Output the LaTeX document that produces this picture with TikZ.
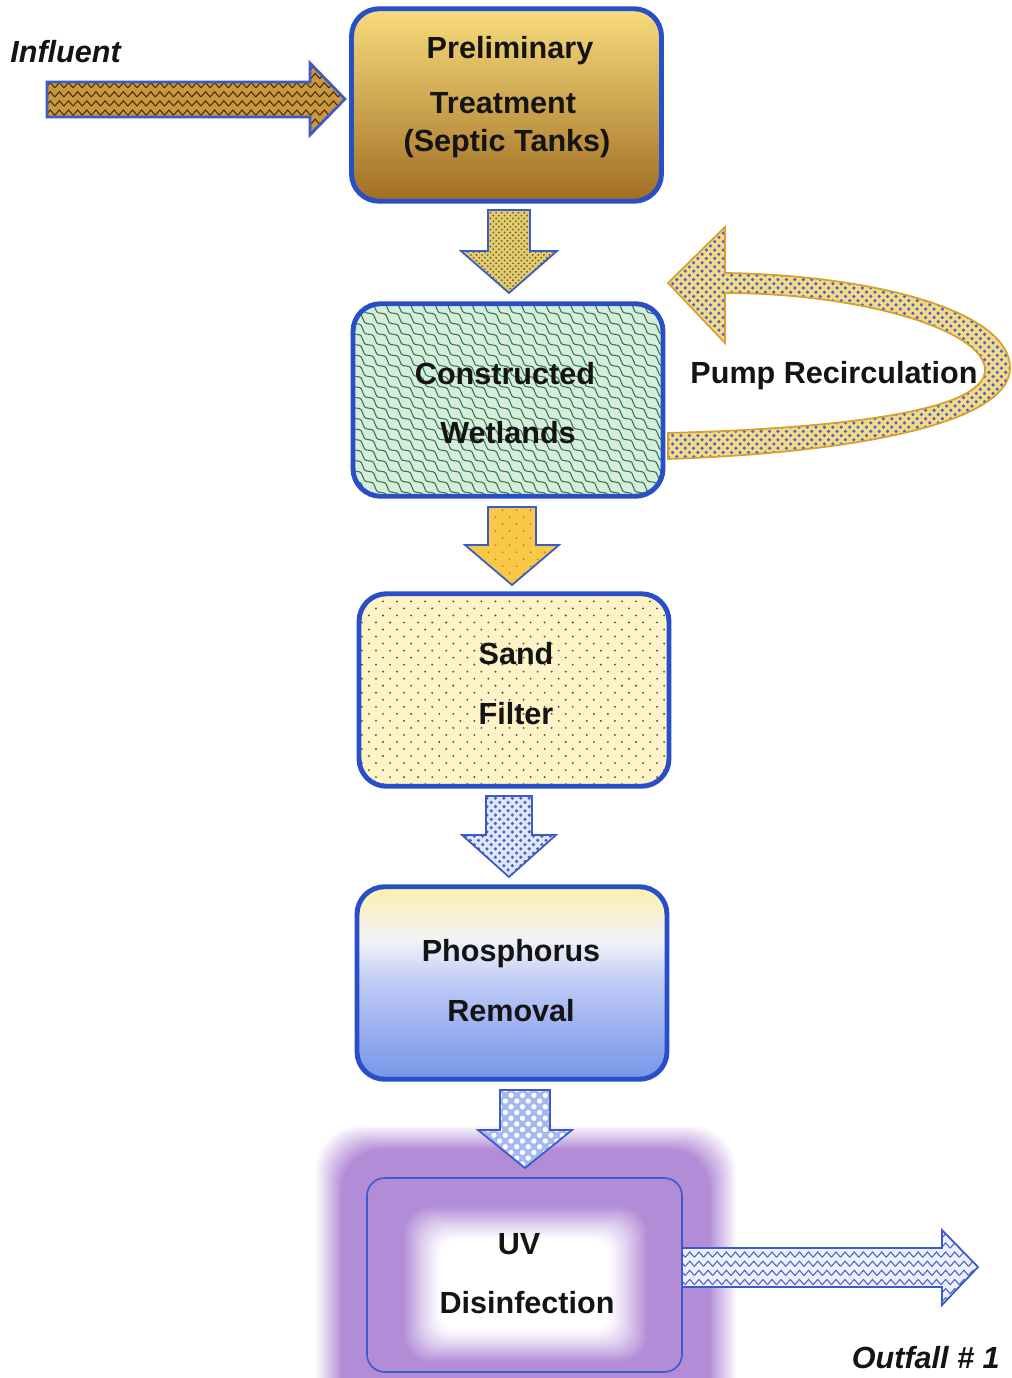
\documentclass[tikz,border=0pt]{standalone}
\usepackage{fontspec}
\setmainfont{Liberation Sans}
\usetikzlibrary{patterns,calc}

\definecolor{boxblue}{RGB}{40,78,200}
\definecolor{arrblue}{RGB}{60,90,200}
\definecolor{preltop}{RGB}{248,220,125}
\definecolor{prelmid}{RGB}{220,165,65}
\definecolor{prelbot}{RGB}{160,110,35}
\definecolor{wetfill}{RGB}{216,236,220}
\definecolor{wetline}{RGB}{45,120,75}
\definecolor{sandfill}{RGB}{253,243,198}
\definecolor{sanddot}{RGB}{80,80,70}
\definecolor{phtop}{RGB}{253,240,172}
\definecolor{phwhite}{RGB}{242,242,248}
\definecolor{phlav}{RGB}{190,202,245}
\definecolor{phbot}{RGB}{118,148,232}
\definecolor{uvpurple}{RGB}{178,140,214}
\definecolor{inflfill}{RGB}{200,152,62}
\definecolor{infldark}{RGB}{70,45,15}
\definecolor{aonefill}{RGB}{226,206,112}
\definecolor{aonedot}{RGB}{115,95,40}
\definecolor{atwofill}{RGB}{248,200,70}
\definecolor{atwodot}{RGB}{170,130,40}
\definecolor{athreefill}{RGB}{222,230,250}
\definecolor{bluedot}{RGB}{80,95,200}
\definecolor{afourfill}{RGB}{165,185,240}
\definecolor{recfill}{RGB}{242,218,135}
\definecolor{recline}{RGB}{215,160,50}
\definecolor{outfill}{RGB}{236,241,253}
\definecolor{txt}{RGB}{20,20,20}

% staggered dot patterns: name, tile (pt), radius (pt)
\newcommand\defdotpat[3]{%
  \pgfdeclarepatternformonly{#1}{\pgfpoint{-1pt}{-1pt}}{\pgfpoint{#2pt+1pt}{#2pt+1pt}}{\pgfpoint{#2pt}{#2pt}}{%
    \pgfpathcircle{\pgfpoint{0.25*#2pt}{0.25*#2pt}}{#3pt}%
    \pgfpathcircle{\pgfpoint{0.75*#2pt}{0.75*#2pt}}{#3pt}%
    \pgfusepath{fill}}}
\defdotpat{densedots}{3.2}{0.6}
\defdotpat{sparsedots}{8}{0.55}
\defdotpat{sanddots}{8}{0.6}
\defdotpat{bluedots}{4.8}{1.0}
\defdotpat{bigdots}{6.5}{1.5}

\pgfdeclarepatternformonly{zigzagpat}{\pgfpoint{-0.5pt}{-0.5pt}}{\pgfpoint{6pt}{6pt}}{\pgfpoint{5.2pt}{5.2pt}}{%
  \pgfsetlinewidth{0.6pt}%
  \pgfpathmoveto{\pgfpoint{0pt}{1.1pt}}%
  \pgfpathlineto{\pgfpoint{2.6pt}{4.1pt}}%
  \pgfpathlineto{\pgfpoint{5.2pt}{1.1pt}}%
  \pgfusepath{stroke}}

\pgfdeclarepatternformonly{scalepat}{\pgfpoint{-1pt}{-1pt}}{\pgfpoint{8pt}{7pt}}{\pgfpoint{7pt}{6pt}}{%
  \pgfsetlinewidth{0.6pt}%
  \pgfpathmoveto{\pgfpoint{0pt}{6pt}}%
  \pgfpathcurveto{\pgfpoint{5.5pt}{6pt}}{\pgfpoint{1.5pt}{0pt}}{\pgfpoint{7pt}{0pt}}%
  \pgfusepath{stroke}}

\pgfdeclareverticalshading{phshade}{100bp}{color(0bp)=(phbot); color(25bp)=(phbot); color(50bp)=(phlav); color(61bp)=(phwhite); color(75bp)=(phtop); color(100bp)=(phtop)}

\newcommand\downblk[7]{%
  \path[#7] (#1-#5,#2) -- (#1+#5,#2) -- (#1+#5,#3) -- (#1+#6,#3) -- (#1,#4) -- (#1-#6,#3) -- (#1-#5,#3) -- cycle;}

\begin{document}
\begin{tikzpicture}[x=0.02cm,y=-0.02cm,
  box/.style={line width=2.8pt,rounded corners=0.55cm,minimum width=6.2cm,minimum height=3.85cm,inner sep=0pt},
  lbl/.style={font=\fontsize{17.4}{20}\selectfont\bfseries,text=txt,inner sep=0pt,anchor=base},
  ilbl/.style={font=\fontsize{17.4}{20}\selectfont\bfseries\itshape,text=txt,inner sep=0pt},
  aone/.style={fill=aonefill,postaction={pattern=densedots,pattern color=aonedot},postaction={draw=arrblue,line width=1pt}},
  atwo/.style={fill=atwofill,postaction={pattern=sparsedots,pattern color=atwodot},postaction={draw=arrblue,line width=1pt}},
  athree/.style={fill=athreefill,postaction={pattern=bluedots,pattern color=bluedot},postaction={draw=arrblue,line width=1pt}},
  afour/.style={fill=afourfill,postaction={pattern=bigdots,pattern color=white},postaction={draw=arrblue,line width=1pt}},
  inflarr/.style={fill=inflfill,postaction={pattern=zigzagpat,pattern color=infldark},postaction={draw=arrblue,line width=1.5pt}},
  outarr/.style={fill=outfill,postaction={pattern=zigzagpat,pattern color=bluedot},postaction={draw=arrblue,line width=1pt}},
  recarr/.style={fill=recfill,postaction={pattern=bluedots,pattern color=bluedot},postaction={draw=recline,line width=1pt}}
]
\useasboundingbox (0,0) rectangle (1011,1378);
\clip (0,0) rectangle (1011,1378);
\fill[white] (0,0) rectangle (1011,1378);

% ---- UV glow: nested opaque rectangles, outer (t=0) to core (t=1) ----
\foreach \k in {0,...,60}{
  \pgfmathsetmacro\t{\k/60}
  \pgfmathsetmacro\p{\t<0.22 ? 100*(\t/0.22) : (\t<0.7 ? 100 : 100*((1-\t)/0.3)^1.2)}
  \pgfmathsetmacro\lx{314+\t*126}
  \pgfmathsetmacro\ty{1124+\t*116}
  \pgfmathsetmacro\rx{738-\t*128}
  \pgfmathsetmacro\by{1440-\t*110}
  \pgfmathsetmacro\rc{26-\t*16}
  \fill[uvpurple!\p!white,rounded corners=\rc pt] (\lx,\ty) rectangle (\rx,\by);
}

% ---- boxes ----
\node[box,draw=boxblue,top color=preltop,middle color=prelmid,bottom color=prelbot] (pre) at (506.5,105) {};
\path[recarr] (668,283) -- (725,227) -- (725,273) .. controls (870,275) and (1010,310) .. (1010,368)
   .. controls (1010,420) and (870,452) .. (668,459) -- (668,433)
   .. controls (850,428) and (985,410) .. (985,370)
   .. controls (985,330) and (860,293) .. (725,293) -- (725,343) -- cycle;
\node[box,fill=wetfill,postaction={pattern=scalepat,pattern color=wetline},postaction={draw=boxblue,line width=2.8pt}] (wet) at (508,400) {};
\node[box,fill=sandfill,postaction={pattern=sanddots,pattern color=sanddot},postaction={draw=boxblue,line width=2.8pt}] (sand) at (514,690) {};
\node[box,draw=boxblue,shading=phshade] (phos) at (512,983) {};
\node[draw=arrblue,line width=0.9pt,rounded corners=10pt,minimum width=6.3cm,minimum height=3.88cm,inner sep=0pt] (uv) at (524.5,1275) {};

% ---- block arrows ----
\path[inflarr] (47,82) -- (310,82) -- (310,63) -- (345,99) -- (310,135) -- (310,117) -- (47,117) -- cycle;
\downblk{509}{210}{251}{293}{21}{48}{aone}
\downblk{512}{507}{545}{585}{24}{47}{atwo}
\downblk{509}{796}{835}{877}{23}{47}{athree}
\downblk{525}{1090}{1130}{1168}{25}{47}{afour}
\path[outarr] (682,1248) -- (942,1248) -- (942,1230) -- (978,1267) -- (942,1305) -- (942,1287) -- (682,1287) -- cycle;

% ---- labels ----
\node[ilbl,anchor=west] (tin) at (10,52) {Influent};
\node[ilbl,anchor=east] (tout) at (1000,1358) {Outfall \# 1};
\node[lbl] (trec) at (834,383) {Pump Recirculation};
\node[lbl] (t1a) at (510,59) {Preliminary};
\node[lbl] (t1b) at (503,114) {Treatment};
\node[lbl] (t1c) at (507,152) {(Septic Tanks)};
\node[lbl] (t2a) at (505,384) {Constructed};
\node[lbl] (t2b) at (508,443) {Wetlands};
\node[lbl] (t3a) at (516,664) {Sand};
\node[lbl] (t3b) at (516,724) {Filter};
\node[lbl] (t4a) at (511,961) {Phosphorus};
\node[lbl] (t4b) at (511,1021) {Removal};
\node[lbl] (t5a) at (519,1254) {UV};
\node[lbl] (t5b) at (527,1313) {Disinfection};
\end{tikzpicture}
\end{document}
